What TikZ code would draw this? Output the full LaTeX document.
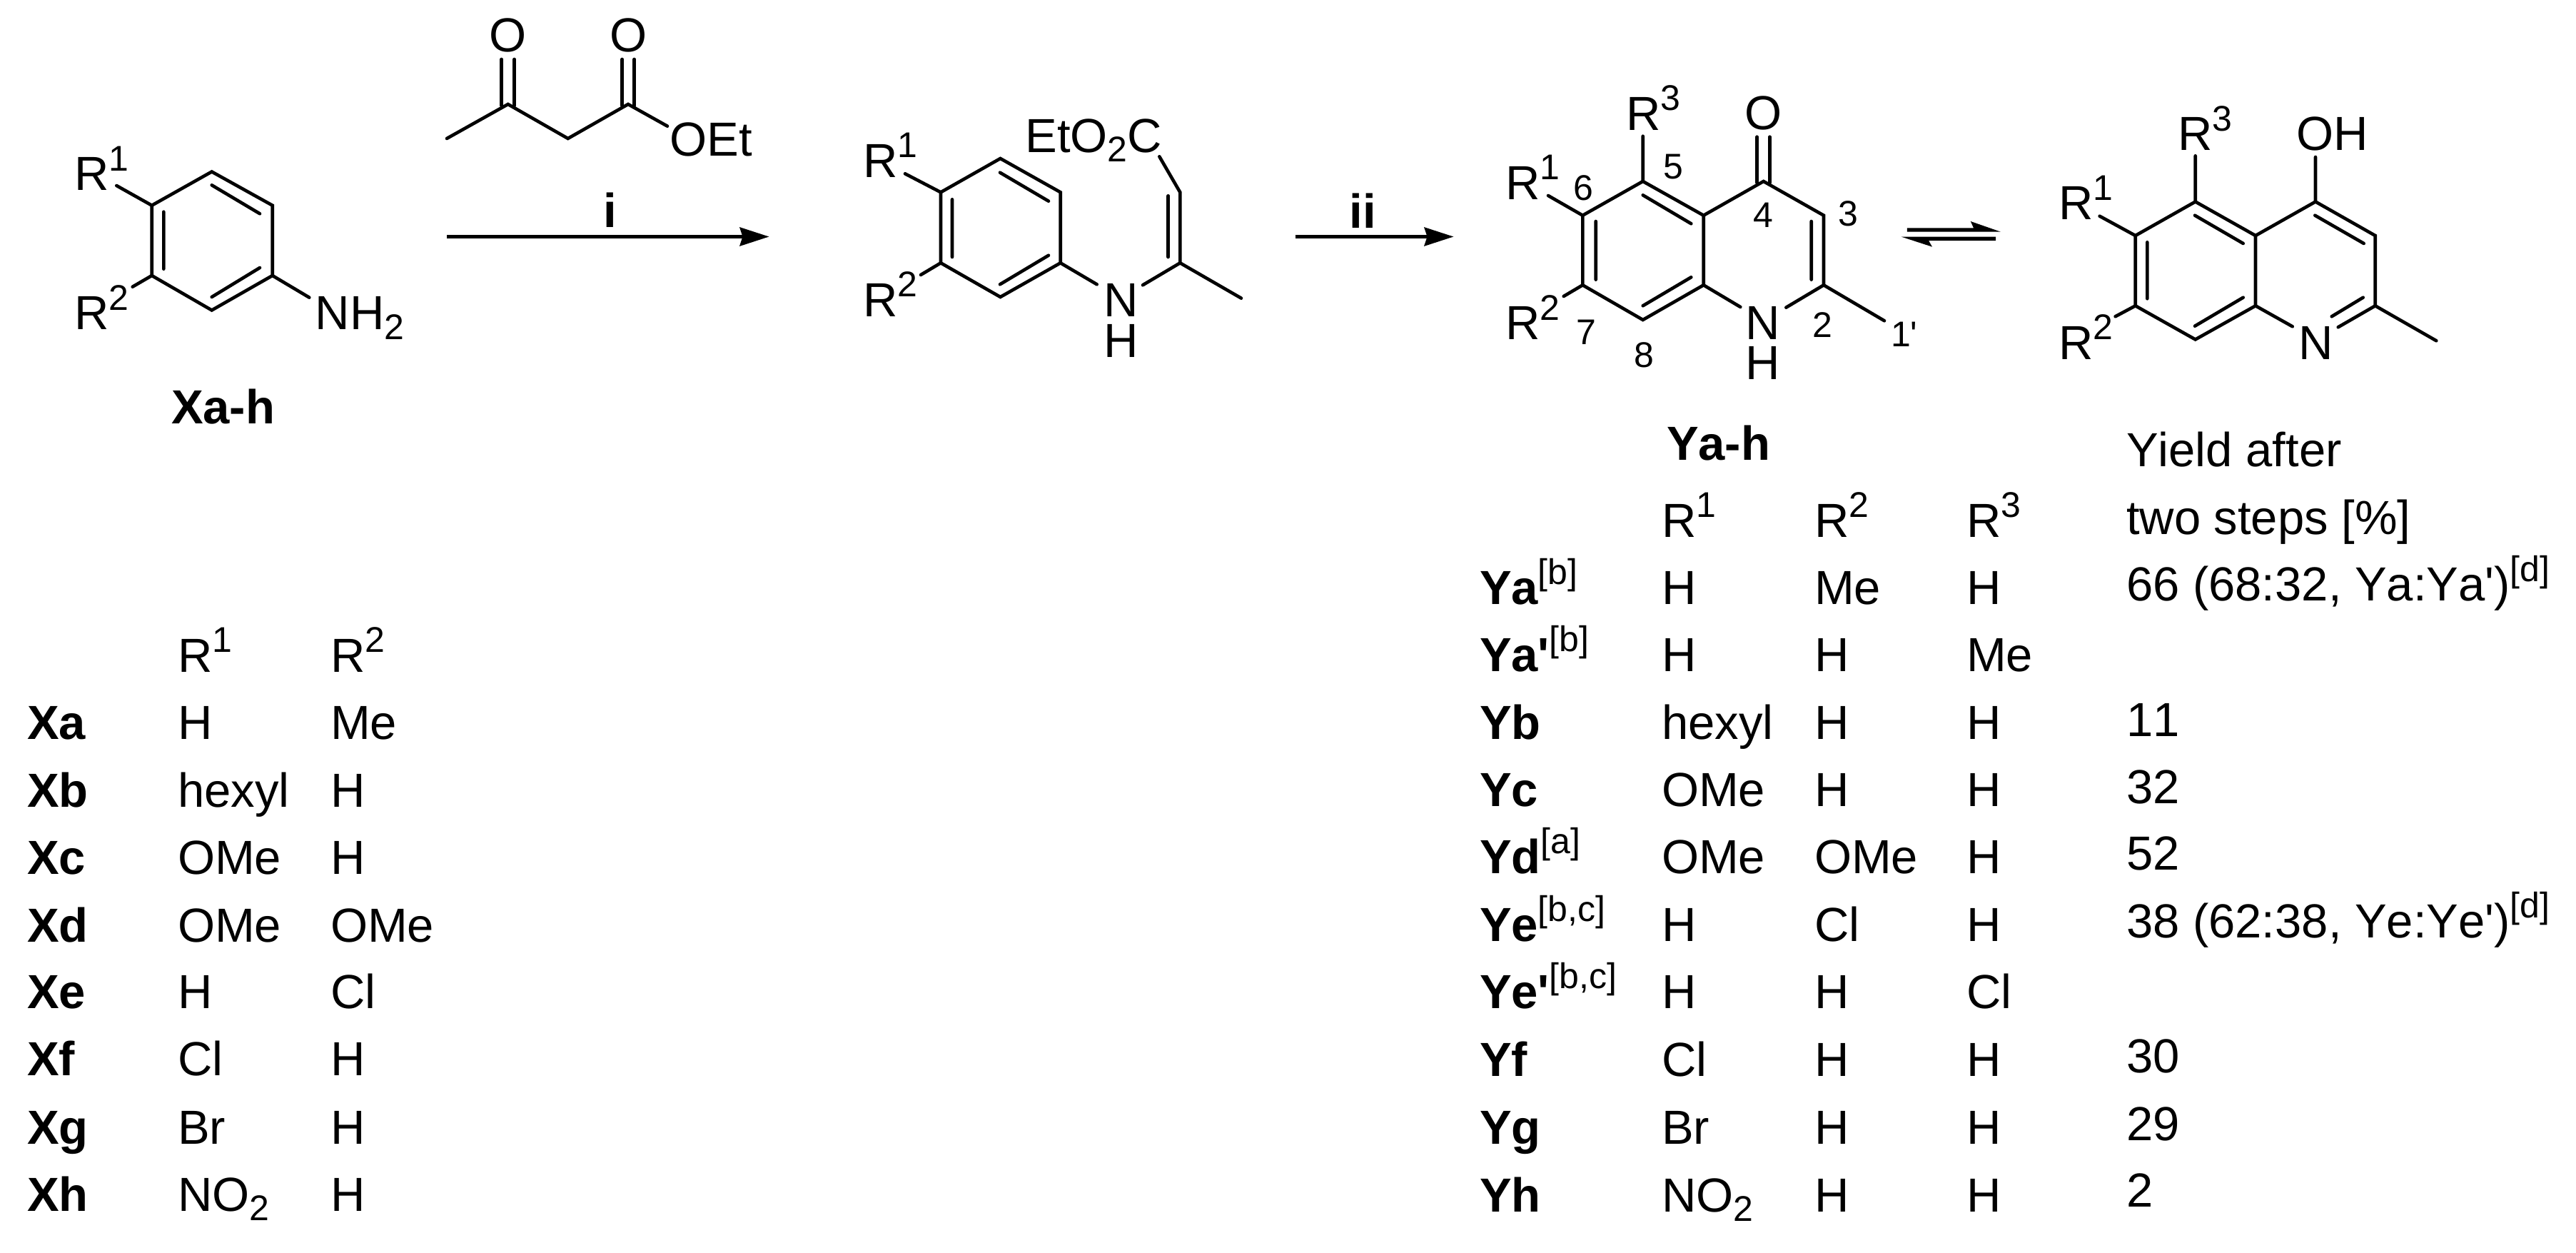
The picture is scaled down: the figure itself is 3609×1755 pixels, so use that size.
\documentclass[tikz,border=0pt]{standalone}
\usepackage{fontspec}
\setmainfont{Liberation Sans}[Ligatures=TeXOff,Kerning=Off]
\usetikzlibrary{arrows.meta}
\newcommand{\mysup}[1]{\raisebox{0.41em}{\fontsize{12.5}{12.5}\selectfont\mdseries #1}}
\newcommand{\mysub}[1]{\raisebox{-0.2em}{\fontsize{12.5}{12.5}\selectfont\mdseries #1}}
\newcommand{\xrow}[4]
{   \node[boldtxt] (#1) at (38,#2) {#1};
    \node[txt] (#1one) at (249,#2) {#3};
    \node[txt] (#1two) at (463,#2) {#4};
}
\newcommand{\yrow}[6]
{   \node[boldtxt] (#1) at (2073,#3) {#2};
    \node[txt] (#1one) at (2328,#3) {#4};
    \node[txt] (#1two) at (2542,#3) {#5};
    \node[txt] (#1three) at (2755,#3) {#6};
}
\newcommand{\yield}[3]{\node[txt] (#1) at (2979,#2) {#3};}
\tikzset{
  txt/.style={anchor=base west,inner sep=0pt,outer sep=0pt,font=\fontsize{16.75}{16.75}\selectfont},
  boldtxt/.style={txt,font=\fontsize{16.75}{16.75}\selectfont\bfseries},
  locant/.style={txt,font=\fontsize{12.5}{12.5}\selectfont},
  bond/.style={line width=1.15pt,line cap=round},
  rxn/.style={line width=1.1pt,-{Stealth[length=10.25pt,width=6.5pt,inset=1pt]}}
}

\begin{document}
\begin{tikzpicture}[x=0.25pt,y=-0.25pt]
 \useasboundingbox (0,0) rectangle (3609,1755);

 % aniline
 \draw[bond] (296.7,240.5) -- (381.7,287.7) -- (381.7,386) -- (296.7,434.5) -- (212.7,386) -- (212.7,287.7) -- cycle;
 \draw[bond] (296.7,259.3) -- (364,299.3) (229.3,296.7) -- (229.3,376.7) (296.7,416) -- (364,375);
 \draw[bond] (212.7,287.7) -- (163.3,260) (212.7,386) -- (185.7,401.7) (381.7,386) -- (433.3,416.7);
 \node[txt] (anR1) at (104,266.7) {R\mysup{1}};
 \node[txt] (anR2) at (104,461.7) {R\mysup{2}};
 \node[txt] (anN) at (441.7,461.7) {NH\mysub{2}};
 \node[boldtxt] (Xah) at (240,593.3) {Xa-h};

 % ketoester
 \draw[bond] (626,194) -- (711.7,146) -- (795.7,194) -- (880,146) -- (935,176.7);
 \draw[bond] (702.7,83) -- (702.7,148) (720.7,83) -- (720.7,148);
 \draw[bond] (871.7,83) -- (871.7,148) (888.7,83) -- (888.7,148);
 \node[txt] (ketoO) at (685,73) {O};
 \node[txt] (esterO) at (854,73) {O};
 \node[txt] (OEt) at (938.5,219) {OEt};

 % step i
 \coordinate (ione) at (626,331.5);
 \coordinate (itwo) at (1077.5,331.5);
 \draw[rxn] (ione) -- (itwo);
 \node[boldtxt,anchor=base] (stepi) at (855,319) {i};

 % enamine
 \draw[bond] (1401.5,222) -- (1485.7,269.3) -- (1485.7,368.3) -- (1401.5,416) -- (1318,368.3) -- (1318,269.3) -- cycle;
 \draw[bond] (1401,241.7) -- (1469,281.7) (1334,279.3) -- (1334,360) (1401,398.3) -- (1469,357.7);
 \draw[bond] (1318,269.3) -- (1268,243.3) (1318,368.3) -- (1290,385) (1485.7,368.3) -- (1536.7,398.3);
 \draw[bond] (1624.3,219.3) -- (1653.3,269.3) -- (1653.3,368.3) -- (1739,417.7) (1653.3,368.3) -- (1601,399.3);
 \draw[bond] (1636.7,274.3) -- (1636.7,360);
 \node[txt] (enR1) at (1209,248.3) {R\mysup{1}};
 \node[txt] (enR2) at (1209,443.3) {R\mysup{2}};
 \node[txt] (enE) at (1436.5,213.3) {EtO\mysub{2}C};
 \node[txt] (enN) at (1546.7,443.3) {N};
 \node[txt] (enH) at (1546.7,500.7) {H};

 % step ii
 \coordinate (iione) at (1814.5,331.5);
 \coordinate (iitwo) at (2036.5,331.5);
 \draw[rxn] (iione) -- (iitwo);
 \node[boldtxt,anchor=base] (stepii) at (1909,320) {ii};

 % quinolone
 \draw[bond] (2301.7,254) -- (2386.7,301.7) -- (2386.7,399.3) -- (2301.7,448) -- (2217.3,399.3) -- (2217.3,301.7) -- cycle;
 \draw[bond] (2386.7,301.7) -- (2470.7,254) -- (2555,301.7) -- (2555,399.3);
 \draw[bond] (2301.7,273.3) -- (2369.3,313.3) (2235.7,310) -- (2235.7,391.7) (2301.7,428.3) -- (2369.3,388.3) (2537.7,310) -- (2537.7,391.7);
 \draw[bond] (2461.7,191.7) -- (2461.7,256) (2479.3,191.7) -- (2479.3,256);
 \draw[bond] (2301.7,254) -- (2301.7,190.7) (2217.3,301.7) -- (2169,274) (2217.3,399.3) -- (2190.7,415);
 \draw[bond] (2386.7,399.3) -- (2438.3,430) (2502.3,430.7) -- (2555,399.3) -- (2640,449.3);
 \node[txt] (qoR3) at (2278,182.3) {R\mysup{3}};
 \node[txt] (qoO) at (2444,181) {O};
 \node[txt] (qoR1) at (2109,279.3) {R\mysup{1}};
 \node[txt] (qoR2) at (2109,475.7) {R\mysup{2}};
 \node[txt] (qoN) at (2445.7,475.7) {N};
 \node[txt] (qoH) at (2445.7,531.7) {H};
 \node[locant] (loc5) at (2330,250.7) {5};
 \node[locant] (loc6) at (2204,281) {6};
 \node[locant] (loc4) at (2456.7,318.3) {4};
 \node[locant] (loc3) at (2575,316) {3};
 \node[locant] (loc2) at (2539,472.7) {2};
 \node[locant] (loc1) at (2649,485.7) {1'};
 \node[locant] (loc7) at (2208,482.7) {7};
 \node[locant] (loc8) at (2289.7,514) {8};

 % equilibrium
 \fill (2671.8,319.3) -- (2765,319.3) -- (2760.8,310) -- (2803,324.7) -- (2671.8,324.7) -- cycle;
 \fill (2664,331.7) -- (2796,331.7) -- (2796,337) -- (2702,337) -- (2707,345.7) -- cycle;

 % quinoline
 \draw[bond] (3075.7,282.5) -- (3160,330) -- (3160,428.3) -- (3075.7,475.5) -- (2991.7,428.3) -- (2991.7,330) -- cycle;
 \draw[bond] (3160,330) -- (3244,282.5) -- (3327.7,330) -- (3327.7,428.3);
 \draw[bond] (3075,301.7) -- (3142.7,341) (3008.3,339.3) -- (3008.3,418.3) (3075,456.7) -- (3142.7,416.7);
 \draw[bond] (3243.3,301.7) -- (3311.7,341) (3266.7,443.3) -- (3310.7,416.7);
 \draw[bond] (3075.7,282.5) -- (3075.7,218.3) (3244,282.5) -- (3244,220) (2991.7,330) -- (2941.6,302.7) (2991.7,428.3) -- (2963.6,443.3);
 \draw[bond] (3160,428.3) -- (3211.7,457.3) (3275.7,458.3) -- (3327.7,428.3) -- (3413.3,477.3);
 \node[txt] (qnR3) at (3051,210.7) {R\mysup{3}};
 \node[txt] (qnOH) at (3217,210.7) {OH};
 \node[txt] (qnR1) at (2884,307.7) {R\mysup{1}};
 \node[txt] (qnR2) at (2884,503.3) {R\mysup{2}};
 \node[txt] (qnN) at (3220,503.3) {N};

 % table X
 \node[txt] (XRone) at (249,941) {R\mysup{1}};
 \node[txt] (XRtwo) at (463,941) {R\mysup{2}};
 \xrow{Xa}{1035}{H}{Me}
 \xrow{Xb}{1130}{hexyl}{H}
 \xrow{Xc}{1224}{OMe}{H}
 \xrow{Xd}{1319}{OMe}{OMe}
 \xrow{Xe}{1412}{H}{Cl}
 \xrow{Xf}{1506}{Cl}{H}
 \xrow{Xg}{1602}{Br}{H}
 \xrow{Xh}{1696}{NO\mysub{2}}{H}

 % table Y
 \node[boldtxt] (Yah) at (2335,644) {Ya-h};
 \node[txt] (Yhead) at (2979,653) {Yield after};
 \node[txt] (Ystep) at (2979,748) {two steps [\%]};
 \node[txt] (YRone) at (2328,752) {R\mysup{1}};
 \node[txt] (YRtwo) at (2542,752) {R\mysup{2}};
 \node[txt] (YRthree) at (2755,752) {R\mysup{3}};
 \yrow{Ya}{Ya\mysup{[b]}}{846}{H}{Me}{H}
 \yrow{Yap}{Ya'\mysup{[b]}}{940}{H}{H}{Me}
 \yrow{Yb}{Yb}{1035}{hexyl}{H}{H}
 \yrow{Yc}{Yc}{1129.5}{OMe}{H}{H}
 \yrow{Yd}{Yd\mysup{[a]}}{1223}{OMe}{OMe}{H}
 \yrow{Ye}{Ye\mysup{[b,c]}}{1318}{H}{Cl}{H}
 \yrow{Yep}{Ye'\mysup{[b,c]}}{1412}{H}{H}{Cl}
 \yrow{Yf}{Yf}{1507}{Cl}{H}{H}
 \yrow{Yg}{Yg}{1602}{Br}{H}{H}
 \yrow{Yh}{Yh}{1697}{NO\mysub{2}}{H}{H}
 \yield{yielda}{841.7}{66 (68:32, Ya:Ya')\mysup{[d]}}
 \yield{yieldb}{1031}{11}
 \yield{yieldc}{1125}{32}
 \yield{yieldd}{1218.7}{52}
 \yield{yielde}{1313}{38 (62:38, Ye:Ye')\mysup{[d]}}
 \yield{yieldf}{1502}{30}
 \yield{yieldg}{1597}{29}
 \yield{yieldh}{1690}{2}

\end{tikzpicture}
\end{document}
